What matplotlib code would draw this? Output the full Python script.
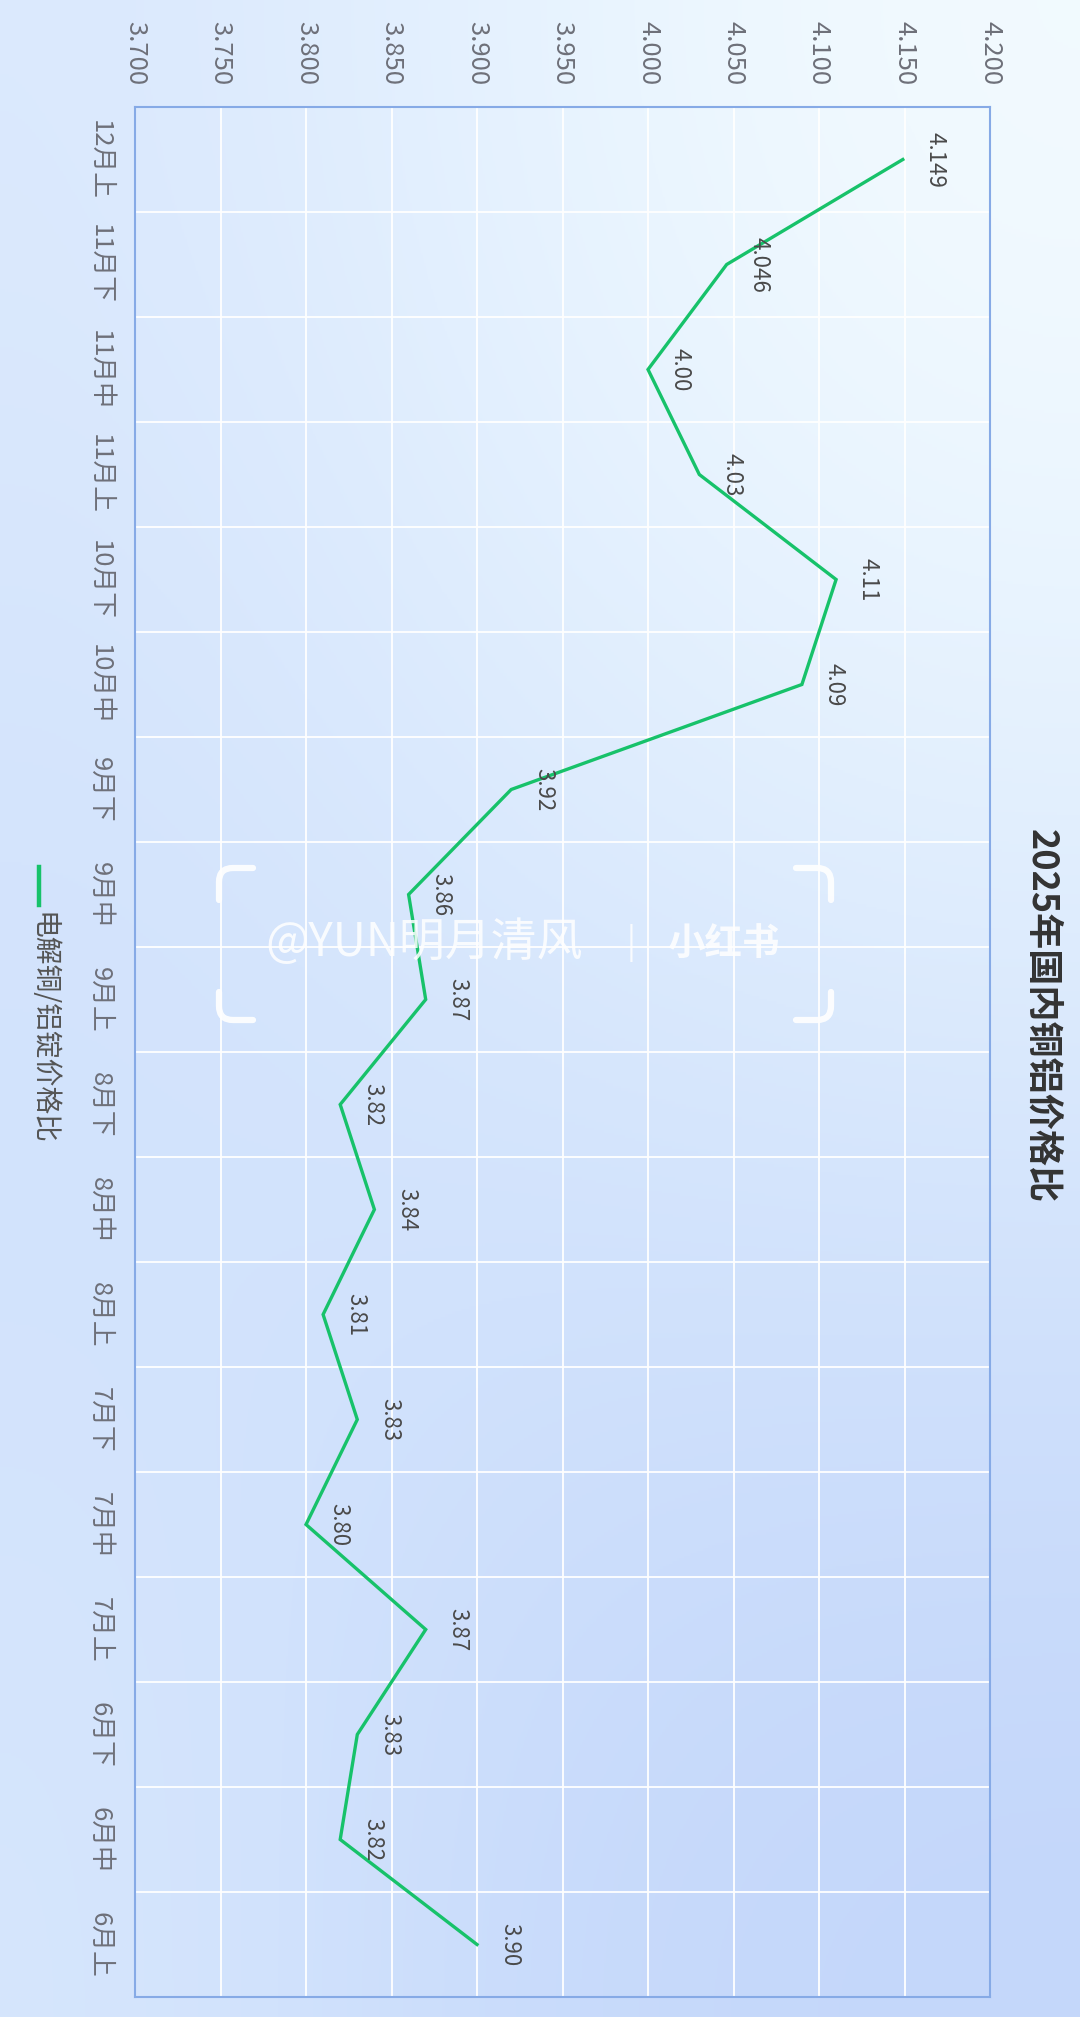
import matplotlib.pyplot as plt
import numpy as np
from matplotlib.lines import Line2D
from matplotlib.path import Path
from matplotlib.patches import PathPatch

plt.rcParams['font.family'] = ['Noto Sans CJK SC', 'DejaVu Sans']

# datos (de arriba hacia abajo en la imagen girada)
categories = ["12月上", "11月下", "11月中", "11月上", "10月下", "10月中", "9月下", "9月中", "9月上",
              "8月下", "8月中", "8月上", "7月下", "7月中", "7月上", "6月下", "6月中", "6月上"]
value_labels = ["4.149", "4.046", "4.00", "4.03", "4.11", "4.09", "3.92", "3.86", "3.87",
                "3.82", "3.84", "3.81", "3.83", "3.80", "3.87", "3.83", "3.82", "3.90"]
values = [float(s) for s in value_labels]
value_ticks = [3.70, 3.75, 3.80, 3.85, 3.90, 3.95, 4.00, 4.05, 4.10, 4.15, 4.20]

title = "2025年国内铜铝价格比"
series_name = "电解铜/铝锭价格比"

W, H = 1080, 2017
line_color = "#17c26a"
tick_color = "#6e7079"


def px(x, y):
    return (x / W, 1 - y / H)


fig = plt.figure(figsize=(W / 100, H / 100), dpi=100)

# fondo degradado
bg = fig.add_axes([0, 0, 1, 1], zorder=-10)
grad = np.array([
    [[0xdb, 0xe9, 0xfd], [0xe8, 0xf4, 0xff], [0xf3, 0xfb, 0xff]],
    [[0xd0, 0xe1, 0xfc], [0xd7, 0xe7, 0xfd], [0xdc, 0xeb, 0xfd]],
    [[0xd6, 0xe6, 0xfd], [0xc7, 0xda, 0xfb], [0xc3, 0xd6, 0xfa]],
]) / 255.0
bg.imshow(grad, extent=[0, 1, 0, 1], aspect="auto", interpolation="bicubic")
bg.set_xlim(0, 1)
bg.set_ylim(0, 1)
bg.axis("off")

# ejes del gráfico
left, right, top, bottom = 135, 990, 107, 1997
ax = fig.add_axes([left / W, (H - bottom) / H, (right - left) / W, (bottom - top) / H])
ax.patch.set_alpha(0)
n = len(categories)
ax.set_xlim(value_ticks[0], value_ticks[-1])
ax.set_ylim(n - 0.5, -0.5)

ax.xaxis.tick_top()
ax.set_xticks(value_ticks)
ax.set_xticklabels([f"{v:.3f}" for v in value_ticks], rotation=-90, fontsize=18.5, color=tick_color)
ax.tick_params(axis="x", length=0, pad=16)

ax.set_yticks(range(n))
ax.set_yticklabels(categories, rotation=-90, fontsize=18.5, color=tick_color, va="center")
ax.set_yticks(np.arange(-0.5, n, 1), minor=True)
ax.tick_params(axis="y", which="both", length=0, pad=16)

ax.grid(axis="x", which="major", color="white", lw=1.3)
ax.grid(axis="y", which="minor", color="white", lw=1.3)
ax.set_axisbelow(True)
for s in ax.spines.values():
    s.set_color("#86aae6")
    s.set_linewidth(1.5)

ax.plot(values, range(n), color=line_color, lw=2.4, solid_joinstyle="miter", zorder=3)
for i, (v, lab) in enumerate(zip(values, value_labels)):
    ax.annotate(lab, (v, i), xytext=(15, 0), textcoords="offset points", rotation=-90,
                ha="left", va="center", fontsize=16, color="#4a4a4a", zorder=4)

# título y leyenda
fig.text(*px(1042, 1016), title, rotation=-90, ha="center", va="center",
         fontsize=26, fontweight="bold", color="#333333")
fig.add_artist(Line2D([39 / W, 39 / W], [1 - 867 / H, 1 - 905 / H], color=line_color,
                      lw=3.2, transform=fig.transFigure))
fig.text(*px(42, 912), series_name, rotation=-90, ha="center", va="top",
         fontsize=20, color="#555555")

# marca de agua
wm = dict(color="white", alpha=0.85, va="center")
fig.text(*px(265, 943), "@YUN明月清风", ha="left", fontsize=33, fontweight="light", **wm)
fig.text(*px(631, 943), "|", ha="center", fontsize=24, fontweight="light", **wm)
fig.text(*px(667, 943), "小红书", ha="left", fontsize=27, fontweight="heavy", **wm)


def bracket(cx, cy, hx, vy, r=14):
    sx = 1 if hx > cx else -1
    sy = 1 if vy > cy else -1
    verts = [px(hx, cy), px(cx + sx * r, cy), px(cx, cy), px(cx, cy + sy * r), px(cx, vy)]
    codes = [Path.MOVETO, Path.LINETO, Path.CURVE3, Path.CURVE3, Path.LINETO]
    fig.add_artist(PathPatch(Path(verts, codes), fill=False, edgecolor="white", alpha=0.9,
                             lw=4.5, capstyle="round", transform=fig.transFigure))


bracket(219, 868, 253, 900)
bracket(219, 1020, 253, 992)
bracket(831, 868, 796, 900)
bracket(831, 1020, 796, 992)

plt.savefig("out.png", dpi=100)
plt.close()
